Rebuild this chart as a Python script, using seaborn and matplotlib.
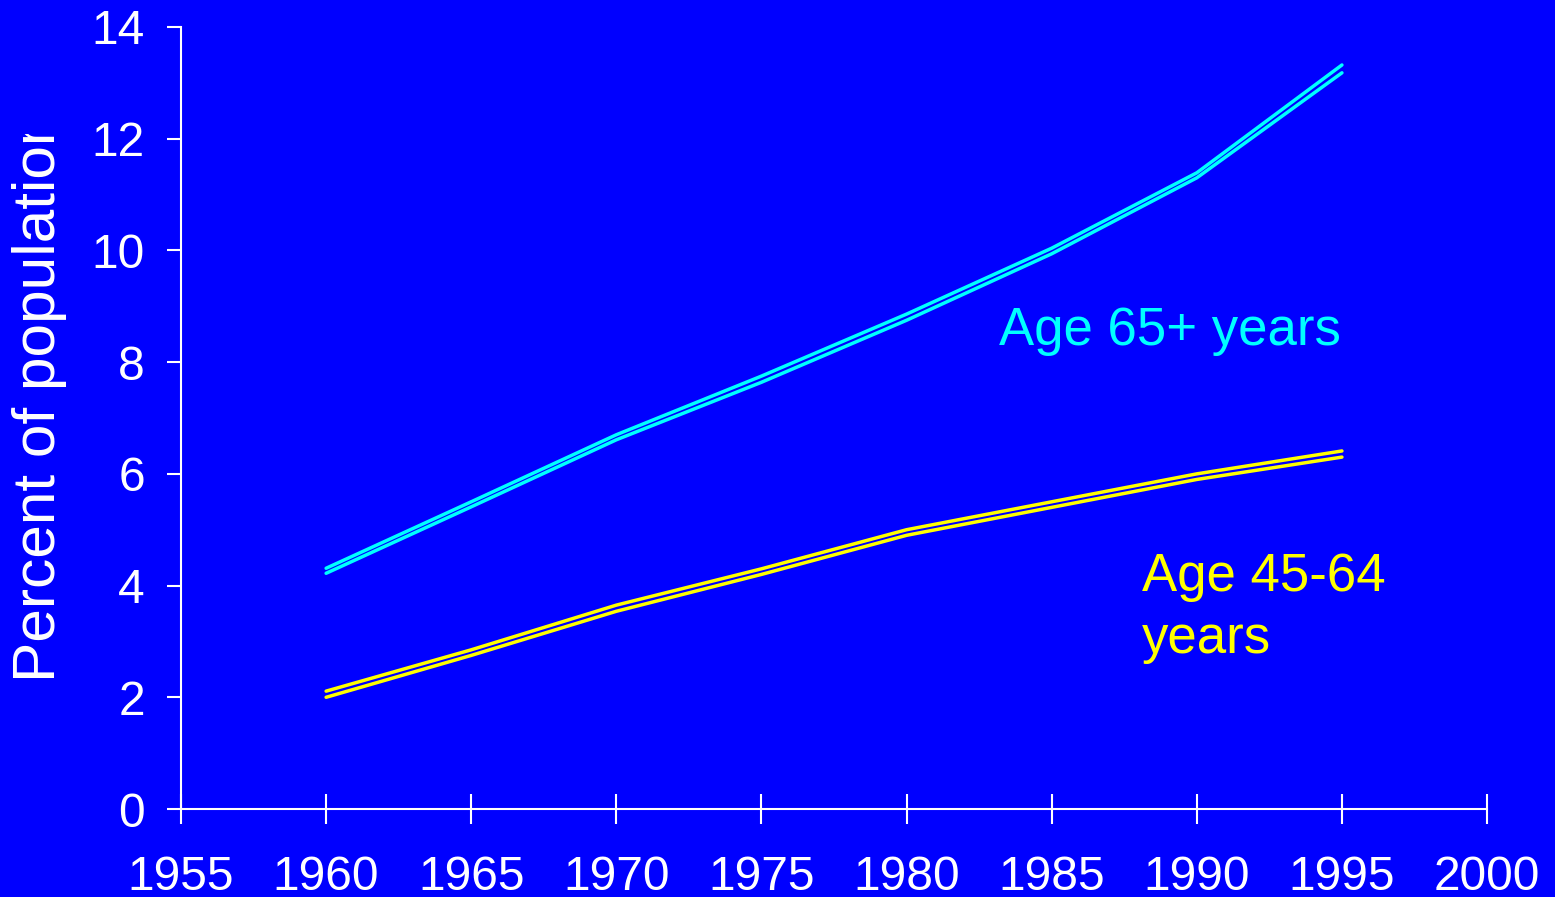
import matplotlib
matplotlib.use("Agg")
import matplotlib.pyplot as plt
from matplotlib.transforms import Bbox, TransformedBbox
import numpy as np
import pandas as pd
import seaborn as sns

# Share of population by age group, two estimates per group
years = [1960, 1965, 1970, 1975, 1980, 1985, 1990, 1995]
age65_a = [4.31, 5.50, 6.70, 7.75, 8.86, 10.04, 11.39, 13.32]
age65_b = [4.22, 5.41, 6.61, 7.64, 8.75, 9.94, 11.30, 13.18]
age45_a = [2.11, 2.85, 3.65, 4.30, 5.00, 5.50, 6.00, 6.41]
age45_b = [2.00, 2.75, 3.54, 4.20, 4.90, 5.40, 5.90, 6.30]

x_ticks = [1955, 1960, 1965, 1970, 1975, 1980, 1985, 1990, 1995, 2000]
y_ticks = [0, 2, 4, 6, 8, 10, 12, 14]

BG = "#0000FF"
CYAN = "#00FFFF"
YELLOW = "#FFFF00"

sns.set_style("ticks", {"axes.facecolor": BG, "figure.facecolor": BG,
                        "axes.edgecolor": "white", "xtick.color": "white",
                        "ytick.color": "white", "text.color": "white",
                        "axes.labelcolor": "white"})
plt.rcParams["font.family"] = ["Liberation Sans", "DejaVu Sans"]

series = {"age65_a": age65_a, "age65_b": age65_b,
          "age45_a": age45_a, "age45_b": age45_b}
df = pd.DataFrame([{"year": y, "series": name, "pct": v}
                   for name, vals in series.items()
                   for y, v in zip(years, vals)])
palette = {"age65_a": CYAN, "age65_b": CYAN,
           "age45_a": YELLOW, "age45_b": YELLOW}

fig = plt.figure(figsize=(15.55, 8.97), dpi=100, facecolor=BG)
ax = fig.add_axes([0.1164, 0.0981, 0.9563 - 0.1164, 0.9699 - 0.0981])
ax.set_facecolor(BG)

sns.lineplot(data=df, x="year", y="pct", hue="series", palette=palette,
             units="series", estimator=None, linewidth=2.5, legend=False,
             ax=ax, solid_capstyle="round")

ax.set_xlim(1955, 2000)
ax.set_ylim(0, 14)
ax.set_xticks(x_ticks)
ax.set_yticks(y_ticks)
ax.set_xticklabels([str(t) for t in x_ticks])
ax.set_yticklabels([str(t) for t in y_ticks])
ax.set_xlabel("")
ax.set_ylabel("")

for side in ("top", "right"):
    ax.spines[side].set_visible(False)
for side in ("left", "bottom"):
    ax.spines[side].set_color("white")
    ax.spines[side].set_linewidth(1.5)

ax.tick_params(axis="x", direction="inout", length=22, width=1.5,
               pad=22, labelsize=34.5, colors="white")
ax.tick_params(axis="y", direction="out", length=10, width=1.5,
               pad=16, labelsize=34.5, colors="white")

ax.text(1983.2, 8.55, "Age 65+ years", color=CYAN, fontsize=38,
        ha="left", va="center")
ax.text(1988.1, 3.6, "Age 45-64\nyears", color=YELLOW, fontsize=38,
        ha="left", va="center", linespacing=1.3)

# Axis title, cut off at the top edge of its frame
ylab = fig.text(0.0255, (897 - 682) / 897, "Percent of population",
                rotation=90, fontsize=43.5, color="white",
                ha="center", va="bottom")
clip = TransformedBbox(Bbox.from_extents(0, 0, 1, 1 - 134 / 897),
                       fig.transFigure)
ylab.set_clip_box(clip)
ylab.set_clip_on(True)

fig.savefig("out.png", dpi=100, facecolor=BG)
